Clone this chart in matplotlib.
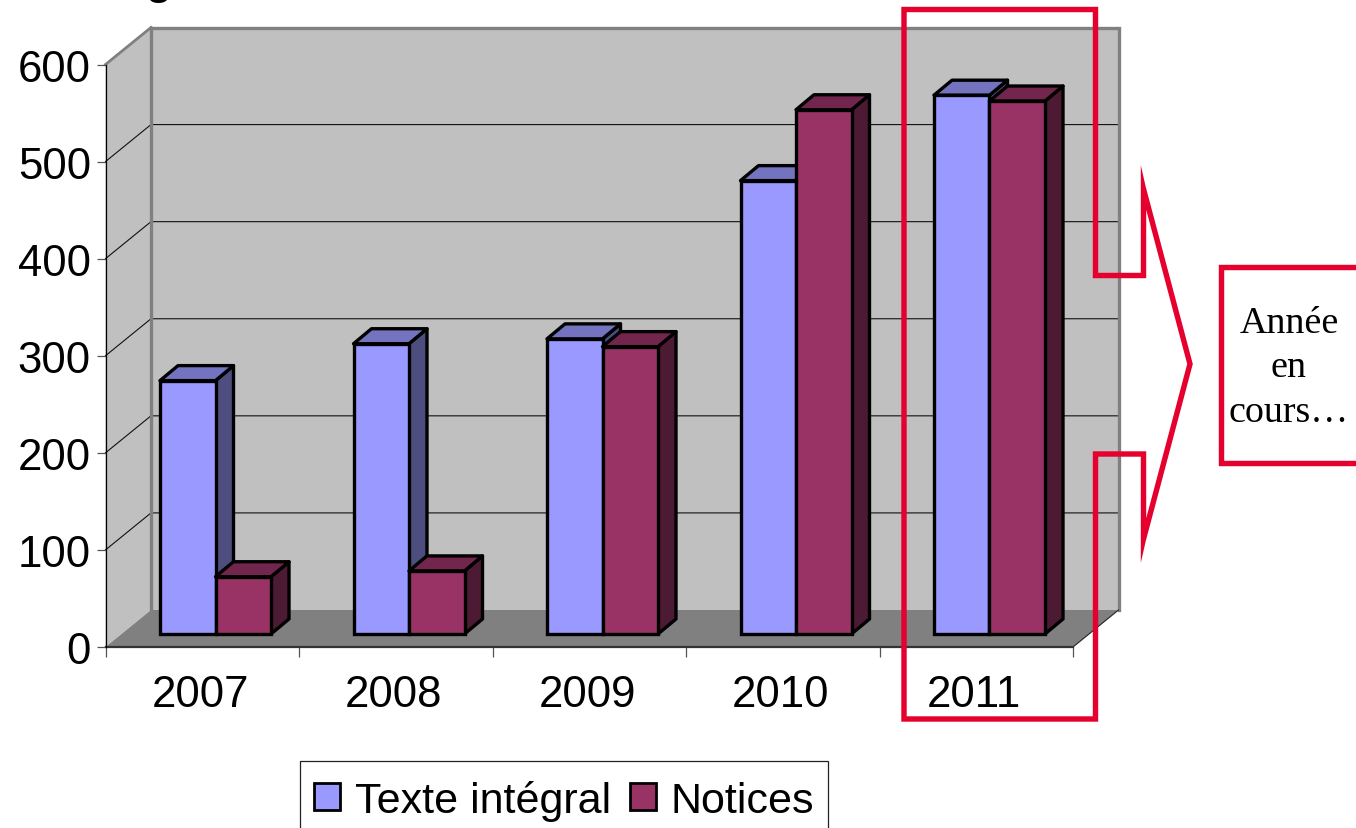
"""Bar chart with a hand-made 3D look and a red callout on the current year."""
import matplotlib
matplotlib.use('Agg')
import numpy as np
import matplotlib.pyplot as plt
from matplotlib.patches import Polygon, Rectangle, Patch

years = ['2007', '2008', '2009', '2010', '2011']
texte = [261, 299, 304, 467, 555]
notices = [59, 65, 296, 540, 549]
yticks = [0, 100, 200, 300, 400, 500, 600]
series_names = ['Texte intégral', 'Notices']

W, H = 1356, 829
X0, X1, Y0, Y1 = 105.5, 1073.0, 648.0, 65.5  # plot box, pixels
SX = (X1 - X0) / 5
SY = (Y0 - Y1) / 600

plt.rcParams['font.family'] = ['Liberation Sans', 'DejaVu Sans']
fig = plt.figure(figsize=(W / 100, H / 100), dpi=100)
ax = fig.add_axes([X0 / W, 1 - Y0 / H, (X1 - X0) / W, (Y0 - Y1) / H])
ax.set_xlim(0, 5)
ax.set_ylim(0, 600)
ax.patch.set_visible(False)

# depth of the box and of the bars, in data units
DX, DY = 45.5 / SX, 37.0 / SY
OX, OY = 16.0 / SX, 13.0 / SY
BX, BY = 18.0 / SX, 15.0 / SY
bar_w = 55.5 / SX
gap = 38.5 / SX

# walls and floor
ax.add_patch(Polygon([(0, 0), (DX, DY), (DX, 600 + DY), (0, 600)], fc='#C0C0C0', ec='none', zorder=1,
                     clip_on=False))
ax.add_patch(Rectangle((DX, DY), 5, 600, fc='#C0C0C0', ec='none', zorder=1, clip_on=False))
ax.add_patch(Polygon([(0, 0), (5, 0), (5 + DX, DY), (DX, DY)], fc='#808080', ec='none', zorder=1.5,
                     clip_on=False))
for v in yticks[1:-1]:
    ax.plot([0, DX, 5 + DX], [v, v + DY, v + DY], c='#111111', lw=0.8, zorder=1.2, clip_on=False)
ax.plot([DX, DX], [DY, 600 + DY], c='#808080', lw=2.4, zorder=1.3, clip_on=False)
ax.plot([DX, 5 + DX, 5 + DX], [600 + DY, 600 + DY, DY], c='#808080', lw=2.4, zorder=1.3,
        clip_on=False, solid_joinstyle='miter')
ax.plot([0, DX], [600, 600 + DY], c='#808080', lw=2.0, zorder=1.3, clip_on=False)
ax.plot([5, 5 + DX], [0, DY], c='#222222', lw=0.8, zorder=1.6, clip_on=False)


def bar3d(x, val, front, top, side, z):
    edge = dict(ec='black', lw=2.4, joinstyle='round', zorder=z, clip_on=False)
    y = val + OY
    ax.add_patch(Polygon([(x + bar_w, OY), (x + bar_w + BX, OY + BY), (x + bar_w + BX, y + BY), (x + bar_w, y)],
                         fc=side, **edge))
    ax.add_patch(Polygon([(x, y), (x + bar_w, y), (x + bar_w + BX, y + BY), (x + BX, y + BY)], fc=top, **edge))
    ax.bar(x, val, bar_w, bottom=OY, align='edge', color=front, edgecolor='black', linewidth=2.4,
           zorder=z, clip_on=False)


for i in range(len(years)):
    x = i + OX + gap
    bar3d(x, texte[i], '#9999FF', '#7373BF', '#4D4D80', 2 + i * 0.1)
    bar3d(x + bar_w, notices[i], '#993366', '#73264D', '#4D1A33', 2.05 + i * 0.1)

# axes
for s in ['top', 'right']:
    ax.spines[s].set_visible(False)
ax.spines['left'].set_color('black')
ax.spines['left'].set_linewidth(0.9)
ax.spines['left'].set_zorder(3)
ax.spines['bottom'].set_color('#333333')
ax.spines['bottom'].set_linewidth(1.6)
ax.spines['bottom'].set_zorder(1.7)
ax.set_yticks(yticks)
ax.set_xticks(np.arange(6))
ax.set_xticklabels([])
ax.set_xticks(np.arange(5) + 0.49, minor=True)
ax.set_xticklabels(years, minor=True)
ax.tick_params(axis='y', labelsize=31.5, length=6.5, width=0.9, color='#555555', pad=4)
ax.tick_params(axis='x', which='major', length=7, width=0.9, color='#555555')
ax.tick_params(axis='x', which='minor', labelsize=31.5, length=0, pad=19.5)

# legend, its box runs off the bottom of the picture
handles = [Patch(fc='#9999FF', ec='black', lw=2), Patch(fc='#993366', ec='black', lw=2)]
fig.legend(handles, series_names, ncol=2, fontsize=31, loc='lower left', frameon=False,
           bbox_to_anchor=(299.5 / W, -0.0085), borderaxespad=0, handlelength=0.6, handleheight=0.6,
           handletextpad=0.35, columnspacing=0.44, borderpad=0.33)

# red callout, in picture pixels
over = fig.add_axes([0, 0, 1, 1])
over.set_xlim(0, W)
over.set_ylim(H, 0)
over.axis('off')
over.add_patch(Rectangle((299.5, 762), 528, 90, fc='none', ec='#222222', lw=0.9))
RED = '#E6002D'
over.add_patch(Polygon([(904, 10.5), (1095.5, 10.5), (1095.5, 276.5), (1143.5, 276.5), (1143.5, 190),
                        (1190, 365), (1143.5, 540), (1143.5, 455), (1095.5, 455), (1095.5, 720), (904, 720)],
                       closed=True, fc='none', ec=RED, lw=3.9, joinstyle='miter'))
# sharp tips of the arrow, the miter join of the line stops short of them
over.add_patch(Polygon([(1140.8, 166), (1146.2, 190), (1140.8, 190)], fc=RED, ec='none'))
over.add_patch(Polygon([(1140.8, 564), (1146.2, 540), (1140.8, 540)], fc=RED, ec='none'))
over.add_patch(Rectangle((1221, 268), 150, 196, fc='white', ec=RED, lw=3.9, joinstyle='miter'))
over.text(1289, 368, 'Année\nen\ncours…', family='Liberation Serif', fontsize=27.4, ha='center', va='center',
          linespacing=1.38)
over.text(158, -6, 'g', fontsize=31, fontweight='bold', ha='center', va='baseline')

fig.savefig('out.png', dpi=100)
